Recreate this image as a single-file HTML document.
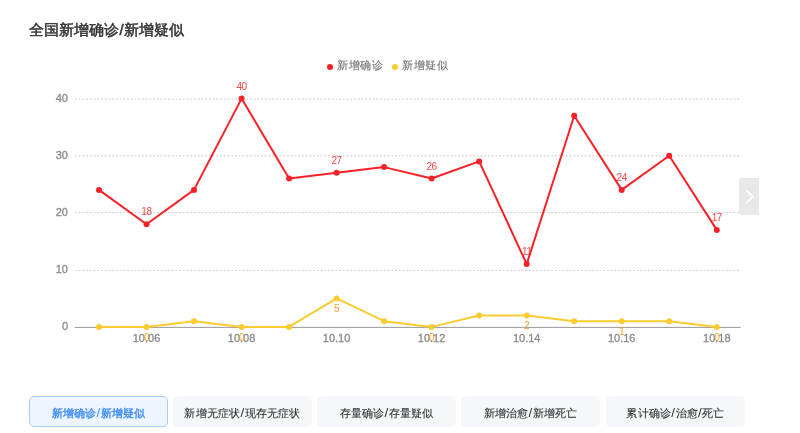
<!DOCTYPE html>
<html><head><meta charset="utf-8"><style>
html,body{margin:0;padding:0;background:#fff;width:800px;height:433px;overflow:hidden;font-family:"Liberation Sans",sans-serif;}
#wrap{position:absolute;left:0;top:0;width:800px;height:433px;will-change:transform;background:#fff;}
.title{position:absolute;left:29px;top:21px;font-size:15px;font-weight:normal;-webkit-text-stroke:0.5px #333;color:#333;white-space:nowrap;}
.sl{padding:0 0.7px 0 0.5px;}
.btn .sl{font-size:13.5px;-webkit-text-stroke:0;padding:0 0.2px;}
.ltxt{position:absolute;top:57px;font-size:11px;letter-spacing:0.5px;line-height:16px;color:#757575;-webkit-text-stroke:0.15px #757575;white-space:nowrap;}
.ldot{position:absolute;top:63.75px;width:6.5px;height:6.5px;border-radius:50%;}
svg{position:absolute;left:0;top:0;}
.ax{font-size:11px;fill:#888;stroke:#888;stroke-width:0.3px;font-family:"Liberation Sans",sans-serif;}
.lr{font-size:10px;letter-spacing:-0.4px;fill:#f82127;fill-opacity:0.85;font-family:"Liberation Sans",sans-serif;}
.ly{font-size:10px;letter-spacing:-0.4px;fill:#f0a02a;font-family:"Liberation Sans",sans-serif;}
.next{position:absolute;left:739px;top:178px;width:20px;height:37px;background:#e8e8e8;border-radius:3px 0 0 3px;}
.btn{position:absolute;top:396px;height:31px;width:139px;box-sizing:border-box;border-radius:5px;background:#f5f7fa;color:#333;-webkit-text-stroke:0.12px #333;font-size:11px;line-height:33px;letter-spacing:0.2px;text-align:center;white-space:nowrap;}
.btn.on{background:#eef5fe;border:1px solid #a8cdfb;color:#3c8cf5;-webkit-text-stroke:0.35px #3c8cf5;line-height:31px;}
</style></head><body><div id="wrap">
<div class="title">全国新增确诊<span class="sl">/</span>新增疑似</div>
<div class="ldot" style="left:326.6px;background:#f82127"></div><div class="ltxt" style="left:337px">新增确诊</div><div class="ldot" style="left:391.5px;background:#fccb32"></div><div class="ltxt" style="left:402px">新增疑似</div>
<svg width="800" height="433" viewBox="0 0 800 433">
<line x1="75" y1="270.4" x2="740.5" y2="270.4" stroke="#ccc" stroke-width="1" stroke-dasharray="1.9 1.82"/>
<line x1="75" y1="212.65" x2="740.5" y2="212.65" stroke="#ccc" stroke-width="1" stroke-dasharray="1.9 1.82"/>
<line x1="75" y1="155.85" x2="740.5" y2="155.85" stroke="#ccc" stroke-width="1" stroke-dasharray="1.9 1.82"/>
<line x1="75" y1="99.1" x2="740.5" y2="99.1" stroke="#ccc" stroke-width="1" stroke-dasharray="1.9 1.82"/>
<line x1="74.7" y1="327.4" x2="740.8" y2="327.4" stroke="#999" stroke-width="1"/>
<text x="68" y="330.0" text-anchor="end" class="ax">0</text>
<text x="68" y="272.9" text-anchor="end" class="ax">10</text>
<text x="68" y="215.9" text-anchor="end" class="ax">20</text>
<text x="68" y="158.8" text-anchor="end" class="ax">30</text>
<text x="68" y="101.7" text-anchor="end" class="ax">40</text>
<text x="146.5" y="342" text-anchor="middle" class="ax">10.06</text>
<text x="241.6" y="342" text-anchor="middle" class="ax">10.08</text>
<text x="336.6" y="342" text-anchor="middle" class="ax">10.10</text>
<text x="431.6" y="342" text-anchor="middle" class="ax">10.12</text>
<text x="526.7" y="342" text-anchor="middle" class="ax">10.14</text>
<text x="621.7" y="342" text-anchor="middle" class="ax">10.16</text>
<text x="716.8" y="342" text-anchor="middle" class="ax">10.18</text>
<polyline points="99.0,326.9 146.5,326.9 194.0,321.2 241.6,326.9 289.1,326.9 336.6,298.4 384.1,321.2 431.6,326.9 479.2,315.5 526.7,315.5 574.2,321.2 621.7,321.2 669.2,321.2 716.8,326.9" fill="none" stroke="#fccb32" stroke-width="2" stroke-linejoin="round"/>
<circle cx="99.0" cy="326.9" r="3" fill="#fccb32"/>
<circle cx="146.5" cy="326.9" r="3" fill="#fccb32"/>
<circle cx="194.0" cy="321.2" r="3" fill="#fccb32"/>
<circle cx="241.6" cy="326.9" r="3" fill="#fccb32"/>
<circle cx="289.1" cy="326.9" r="3" fill="#fccb32"/>
<circle cx="336.6" cy="298.4" r="3" fill="#fccb32"/>
<circle cx="384.1" cy="321.2" r="3" fill="#fccb32"/>
<circle cx="431.6" cy="326.9" r="3" fill="#fccb32"/>
<circle cx="479.2" cy="315.5" r="3" fill="#fccb32"/>
<circle cx="526.7" cy="315.5" r="3" fill="#fccb32"/>
<circle cx="574.2" cy="321.2" r="3" fill="#fccb32"/>
<circle cx="621.7" cy="321.2" r="3" fill="#fccb32"/>
<circle cx="669.2" cy="321.2" r="3" fill="#fccb32"/>
<circle cx="716.8" cy="326.9" r="3" fill="#fccb32"/>
<polyline points="99.0,189.9 146.5,224.2 194.0,189.9 241.6,98.6 289.1,178.5 336.6,172.8 384.1,167.1 431.6,178.5 479.2,161.4 526.7,264.1 574.2,115.7 621.7,189.9 669.2,155.7 716.8,229.9" fill="none" stroke="#f82127" stroke-width="2" stroke-linejoin="round"/>
<circle cx="99.0" cy="189.9" r="3" fill="#f82127"/>
<circle cx="146.5" cy="224.2" r="3" fill="#f82127"/>
<circle cx="194.0" cy="189.9" r="3" fill="#f82127"/>
<circle cx="241.6" cy="98.6" r="3" fill="#f82127"/>
<circle cx="289.1" cy="178.5" r="3" fill="#f82127"/>
<circle cx="336.6" cy="172.8" r="3" fill="#f82127"/>
<circle cx="384.1" cy="167.1" r="3" fill="#f82127"/>
<circle cx="431.6" cy="178.5" r="3" fill="#f82127"/>
<circle cx="479.2" cy="161.4" r="3" fill="#f82127"/>
<circle cx="526.7" cy="264.1" r="3" fill="#f82127"/>
<circle cx="574.2" cy="115.7" r="3" fill="#f82127"/>
<circle cx="621.7" cy="189.9" r="3" fill="#f82127"/>
<circle cx="669.2" cy="155.7" r="3" fill="#f82127"/>
<circle cx="716.8" cy="229.9" r="3" fill="#f82127"/>
<text x="146.5" y="215.2" text-anchor="middle" class="lr">18</text>
<text x="146.5" y="340.5" text-anchor="middle" class="ly">0</text>
<text x="241.6" y="89.6" text-anchor="middle" class="lr">40</text>
<text x="241.6" y="340.5" text-anchor="middle" class="ly">0</text>
<text x="336.6" y="163.8" text-anchor="middle" class="lr">27</text>
<text x="336.6" y="312.0" text-anchor="middle" class="ly">5</text>
<text x="431.6" y="169.5" text-anchor="middle" class="lr">26</text>
<text x="431.6" y="340.5" text-anchor="middle" class="ly">0</text>
<text x="526.7" y="255.1" text-anchor="middle" class="lr">11</text>
<text x="526.7" y="329.1" text-anchor="middle" class="ly">2</text>
<text x="621.7" y="180.9" text-anchor="middle" class="lr">24</text>
<text x="621.7" y="334.8" text-anchor="middle" class="ly">1</text>
<text x="716.8" y="220.9" text-anchor="middle" class="lr">17</text>
<text x="716.8" y="340.5" text-anchor="middle" class="ly">0</text>
</svg>
<div class="next"><svg width="20" height="37" style="position:absolute;left:0;top:0"><polyline points="7.9,12.9 13.8,18.5 7.9,24.3" fill="none" stroke="#fff" stroke-width="1.7" stroke-linecap="round" stroke-linejoin="round"/></svg></div>
<div class="btn on" style="left:29px">新增确诊<span class="sl">/</span>新增疑似</div>
<div class="btn" style="left:173px">新增无症状<span class="sl">/</span>现存无症状</div>
<div class="btn" style="left:317px">存量确诊<span class="sl">/</span>存量疑似</div>
<div class="btn" style="left:461px">新增治愈<span class="sl">/</span>新增死亡</div>
<div class="btn" style="left:606px">累计确诊<span class="sl">/</span>治愈<span class="sl">/</span>死亡</div>
</div></body></html>
